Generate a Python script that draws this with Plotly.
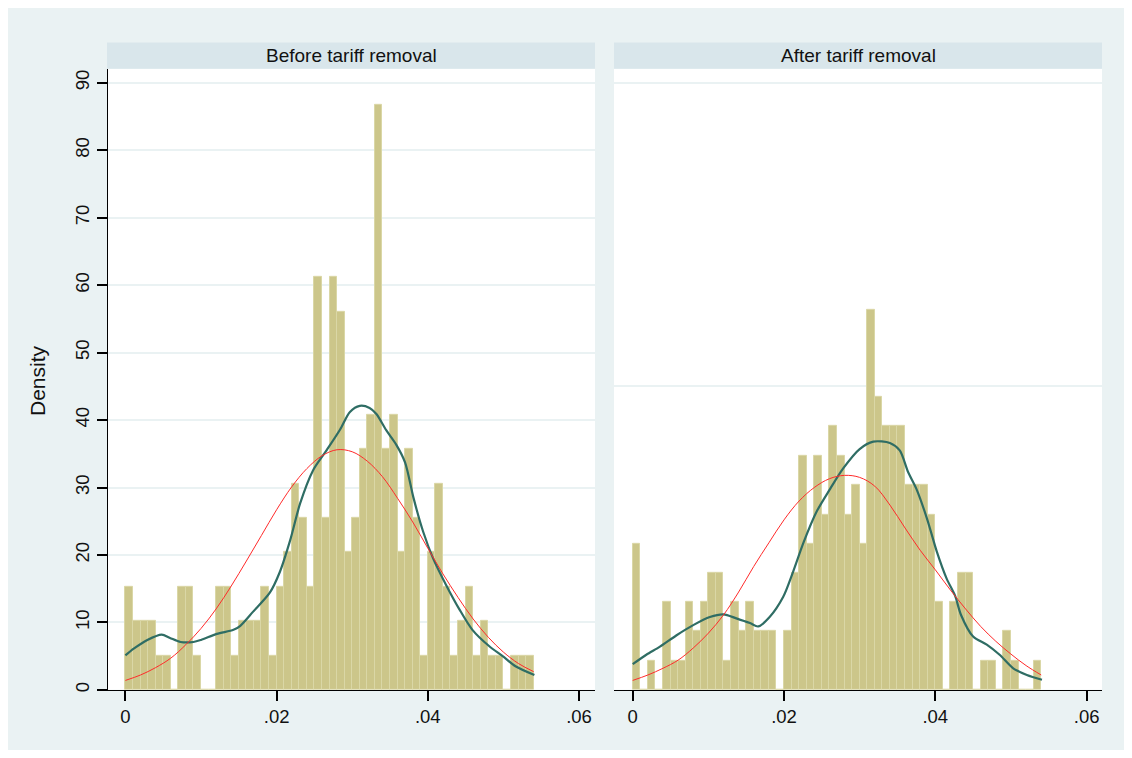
import plotly.graph_objects as go

# page is 1132x758; the html body has an 8px margin, so the figure is 1116x742
OFF = 8
W, H = 1132 - 2 * OFF, 758 - 2 * OFF

# ---------------- data ----------------
bin_width = 0.001
bin_left_edges = [round(i * 0.001, 3) for i in range(54)]

before_density = [15.3, 10.2, 10.2, 10.2, 5.1, 5.1, 0, 15.3, 15.3, 5.1,
                  0, 0, 15.3, 15.3, 5.1, 10.2, 10.2, 10.2, 15.3, 5.1,
                  15.3, 20.4, 30.6, 25.5, 15.3, 61.2, 25.5, 61.2, 56.1, 20.4,
                  25.5, 35.7, 40.8, 86.7, 35.7, 40.8, 20.4, 35.7, 25.5, 5.1,
                  20.4, 30.6, 15.3, 5.1, 10.2, 15.3, 5.1, 10.2, 5.1, 5.1,
                  0, 5.1, 5.1, 5.1]

after_density = [21.7, 0, 4.3, 0, 13.0, 4.3, 4.3, 13.0, 8.7, 13.0,
                 17.4, 17.4, 4.3, 13.0, 8.7, 13.0, 8.7, 8.7, 8.7, 0,
                 8.7, 17.4, 34.7, 21.7, 34.7, 26.0, 39.1, 34.7, 26.0, 30.4,
                 21.7, 56.4, 43.4, 39.1, 39.1, 39.1, 30.4, 30.4, 30.4, 26.0,
                 13.0, 0, 13.0, 17.4, 17.4, 0, 4.3, 4.3, 0, 8.7,
                 4.3, 0, 0, 4.3]

before_kde_x = [0.0000, 0.0011, 0.0029, 0.0048, 0.0059, 0.0073, 0.0090, 0.0100,
                0.0121, 0.0143, 0.0152, 0.0169, 0.0191, 0.0204, 0.0218, 0.0231,
                0.0248, 0.0266, 0.0284, 0.0297, 0.0310, 0.0323, 0.0332, 0.0345,
                0.0358, 0.0370, 0.0381, 0.0394, 0.0407, 0.0424, 0.0442, 0.0459,
                0.0481, 0.0499, 0.0516, 0.0541]
before_kde_y = [5.1, 6.1, 7.4, 8.2, 7.7, 7.1, 7.1, 7.4,
                8.3, 8.9, 9.5, 11.6, 14.4, 17.4, 22.2, 27.6,
                32.5, 35.5, 38.6, 41.2, 42.1, 41.8, 40.9, 38.5,
                36.4, 33.7, 28.5, 23.4, 19.5, 15.6, 11.9, 8.9,
                6.5, 5.0, 3.5, 2.2]

normal_x = [round(i * 0.002, 3) for i in range(28)]
before_normal_y = [1.4, 2.2, 3.3, 4.7, 6.7, 9.1, 12.0, 15.4, 19.1, 22.9,
                   26.7, 30.1, 32.8, 34.7, 35.6, 35.3, 33.9, 31.6, 28.4, 24.9,
                   21.0, 17.2, 13.7, 10.5, 7.8, 5.6, 3.9, 2.7]

after_kde_x = [0.0000, 0.0018, 0.0036, 0.0058, 0.0080, 0.0102, 0.0120, 0.0137,
               0.0155, 0.0166, 0.0181, 0.0199, 0.0212, 0.0226, 0.0243, 0.0261,
               0.0278, 0.0300, 0.0318, 0.0340, 0.0353, 0.0364, 0.0375, 0.0389,
               0.0402, 0.0415, 0.0426, 0.0434, 0.0450, 0.0468, 0.0485, 0.0503,
               0.0521, 0.0541]
after_kde_y = [3.8, 5.2, 6.4, 8.1, 9.6, 10.8, 11.2, 10.6,
               9.9, 9.4, 10.8, 13.8, 17.5, 21.9, 26.4, 29.8,
               32.8, 35.7, 36.8, 36.6, 35.5, 32.3, 29.8, 25.4,
               20.5, 16.5, 14.0, 11.1, 7.9, 6.7, 5.2, 3.2,
               2.2, 1.5]

after_normal_y = [1.4, 2.2, 3.2, 4.4, 6.2, 8.4, 11.1, 14.5, 18.3, 21.8,
                  25.2, 28.0, 30.0, 31.3, 31.8, 31.5, 30.2, 27.4, 24.0, 20.7,
                  17.8, 14.8, 12.0, 9.4, 7.2, 5.3, 3.6, 2.2]

panel_titles = ["Before tariff removal", "After tariff removal"]
x_tickvals = [0, 0.02, 0.04, 0.06]
x_ticktext = ["0", ".02", ".04", ".06"]
y_tickvals = [0, 10, 20, 30, 40, 50, 60, 70, 80, 90]
y_ticktext = ["0", "10", "20", "30", "40", "50", "60", "70", "80", "90"]
right_grid = [45, 90]

# ---------------- style ----------------
BAR_FILL = "#CCC68A"
BAR_LINE = "#DAD7A6"
KDE_COL = "#2F6D64"
NORM_COL = "#FF2A2A"
OUTER_BG = "#EAF2F3"
STRIP_BG = "#D9E6EB"
GRID_COL = "#EAF2F3"
FONT = "Liberation Sans, Arial, sans-serif"
TXT = "#111111"

def px_x(p):  # page pixel -> paper fraction
    return (p - OFF) / W

def px_y(p):
    return 1 - (p - OFF) / H

# panel geometry in page pixels
L_X0, L_X1 = 108, 595
R_X0, R_X1 = 614, 1102
P_TOP, P_BOT = 69, 691.7
S_TOP = 42.7

xr_left = [(L_X0 - 125.4) / 151.2 * 0.02, (L_X1 - 125.4) / 151.2 * 0.02]
xr_right = [(R_X0 - 632.7) / 151.3 * 0.02, (R_X1 - 632.7) / 151.3 * 0.02]
y_per = (691.7 - 83) / 90.0
yr = [0, 90 + (83 - P_TOP) / y_per]

centers = [e + bin_width / 2 for e in bin_left_edges]

fig = go.Figure()

def add_panel(dens, kx, ky, ny, xa, ya):
    fig.add_trace(go.Bar(x=centers, y=dens, width=bin_width,
                         marker=dict(color=BAR_FILL, line=dict(color=BAR_LINE, width=1)),
                         xaxis=xa, yaxis=ya, showlegend=False, hoverinfo="skip"))
    fig.add_trace(go.Scatter(x=kx, y=ky, mode="lines",
                             line=dict(color=KDE_COL, width=2.2, shape="spline", smoothing=0.8),
                             xaxis=xa, yaxis=ya, showlegend=False, hoverinfo="skip"))
    fig.add_trace(go.Scatter(x=normal_x, y=ny, mode="lines",
                             line=dict(color=NORM_COL, width=1, shape="spline", smoothing=1),
                             xaxis=xa, yaxis=ya, showlegend=False, hoverinfo="skip"))

add_panel(before_density, before_kde_x, before_kde_y, before_normal_y, "x", "y")
add_panel(after_density, after_kde_x, after_kde_y, after_normal_y, "x2", "y2")

def rect(x0, x1, y0, y1, color):
    return dict(type="rect", xref="paper", yref="paper", x0=px_x(x0), x1=px_x(x1),
                y0=px_y(y1), y1=px_y(y0), fillcolor=color, line=dict(width=0), layer="below")

shapes = [
    rect(7, 1125, 7, 752, OUTER_BG),
    rect(L_X0, L_X1, P_TOP, P_BOT, "white"),
    rect(R_X0, R_X1, P_TOP, P_BOT, "white"),
    rect(107, L_X1, S_TOP, P_TOP, STRIP_BG),
    rect(R_X0, R_X1, S_TOP, P_TOP, STRIP_BG),
]

annotations = [
    dict(text=panel_titles[0], xref="paper", yref="paper",
         x=px_x((107 + L_X1) / 2), y=px_y((S_TOP + P_TOP) / 2), showarrow=False,
         xanchor="center", yanchor="middle", font=dict(size=19, color=TXT, family=FONT)),
    dict(text=panel_titles[1], xref="paper", yref="paper",
         x=px_x((R_X0 + R_X1) / 2), y=px_y((S_TOP + P_TOP) / 2), showarrow=False,
         xanchor="center", yanchor="middle", font=dict(size=19, color=TXT, family=FONT)),
    dict(text="Density", xref="paper", yref="paper", x=px_x(38), y=px_y(382),
         showarrow=False, textangle=-90, xanchor="center", yanchor="middle",
         font=dict(size=21, color=TXT, family=FONT)),
]

xaxis_common = dict(tickvals=x_tickvals, ticktext=x_ticktext, ticks="outside",
                    ticklen=10, tickwidth=1.5, tickcolor="black", showline=True,
                    linecolor="black", linewidth=1.3, showgrid=False, zeroline=False,
                    tickfont=dict(size=18.5, color=TXT, family=FONT))

fig.update_layout(
    width=W, height=H,
    margin=dict(l=0, r=0, t=0, b=0),
    paper_bgcolor="white",
    plot_bgcolor="rgba(0,0,0,0)",
    bargap=0,
    shapes=shapes,
    annotations=annotations,
    xaxis=dict(xaxis_common, domain=[px_x(L_X0), px_x(L_X1)], range=xr_left, anchor="y"),
    xaxis2=dict(xaxis_common, domain=[px_x(R_X0), px_x(R_X1)], range=xr_right, anchor="y2"),
    yaxis=dict(domain=[px_y(P_BOT), px_y(P_TOP)], range=yr, tickvals=y_tickvals,
               ticktext=y_ticktext, tickangle=-90, ticks="outside", ticklen=10, tickwidth=1.5,
               tickcolor="black", showline=True, linecolor="black", linewidth=1.3,
               showgrid=True, gridcolor=GRID_COL, gridwidth=1.5, zeroline=False,
               tickfont=dict(size=18.5, color=TXT, family=FONT), anchor="x"),
    yaxis2=dict(domain=[px_y(P_BOT), px_y(P_TOP)], range=yr, tickvals=right_grid,
                showticklabels=False, ticks="", showline=False, showgrid=True,
                gridcolor=GRID_COL, gridwidth=1.5, zeroline=False, anchor="x2"),
)

fig.write_html("out.html")
